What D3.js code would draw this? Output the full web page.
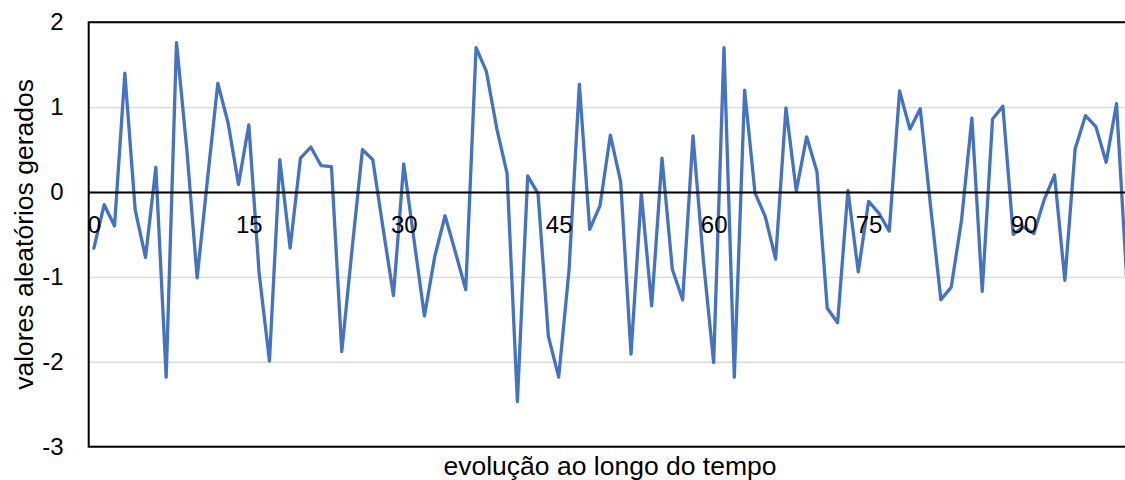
<!DOCTYPE html>
<html>
<head>
<meta charset="utf-8">
<script src="https://cdn.jsdelivr.net/npm/d3@7"></script>
<style>
  html, body { margin: 0; padding: 0; background: #ffffff; }
  svg { display: block; font-family: "Liberation Sans", Arial, sans-serif; }
</style>
</head>
<body>
<svg id="chart" width="1125" height="480"></svg>
<script>
// Sequence index (0..100)
const categories = d3.range(0, 101);

// Generated random values, one per time step
const values = [
  -0.66, -0.15, -0.40, 1.40, -0.21, -0.77, 0.29, -2.18, 1.76, 0.50,
  -1.01, 0.15, 1.28, 0.81, 0.09, 0.79, -0.96, -1.99, 0.38, -0.66,
  0.40, 0.53, 0.31, 0.30, -1.88, -0.67, 0.50, 0.38, -0.43, -1.22,
  0.33, -0.57, -1.46, -0.76, -0.28, -0.71, -1.15, 1.70, 1.42, 0.75,
  0.22, -2.47, 0.19, -0.02, -1.70, -2.18, -0.92, 1.27, -0.44, -0.16,
  0.67, 0.12, -1.91, -0.02, -1.34, 0.40, -0.91, -1.27, 0.66, -0.80,
  -2.01, 1.70, -2.18, 1.20, -0.01, -0.29, -0.79, 0.99, 0.01, 0.65,
  0.24, -1.37, -1.54, 0.02, -0.94, -0.11, -0.25, -0.46, 1.19, 0.74,
  0.98, -0.17, -1.27, -1.12, -0.33, 0.87, -1.17, 0.86, 1.01, -0.50,
  -0.41, -0.49, -0.09, 0.20, -1.04, 0.51, 0.90, 0.77, 0.35, 1.04,
  -1.05
];

// Axis ticks
const xTickValues = [0, 15, 30, 45, 60, 75, 90];
const yTickValues = [-3, -2, -1, 0, 1, 2];

const xTitle = "evolução ao longo do tempo";
const yTitle = "valores aleatórios gerados";

const svg = d3.select("#chart");

const plot = { left: 88.7, right: 1132, top: 22.2, bottom: 446.7 };

const x = d3.scalePoint()
  .domain(categories)
  .range([plot.left, plot.right])
  .padding(0.5);

const y = d3.scaleLinear()
  .domain([-3, 2])
  .range([plot.bottom, plot.top]);

// Horizontal gridlines
const grid = svg.append("g")
  .attr("transform", `translate(${plot.left},0)`)
  .call(d3.axisLeft(y).tickValues(yTickValues).tickSize(-(plot.right - plot.left)).tickFormat(""));
grid.select(".domain").remove();
grid.selectAll("line").attr("stroke", "#d9d9d9").attr("stroke-width", 1.4);

// Plot area frame
svg.append("rect")
  .attr("x", plot.left)
  .attr("y", plot.top)
  .attr("width", plot.right - plot.left)
  .attr("height", plot.bottom - plot.top)
  .attr("fill", "none")
  .attr("stroke", "#000")
  .attr("stroke-width", 2);

// Y axis labels (plain hyphen for negatives)
const yAxis = svg.append("g")
  .attr("transform", `translate(${plot.left},0)`)
  .call(d3.axisLeft(y).tickValues(yTickValues).tickSize(0).tickPadding(25).tickFormat(d => String(d)));
yAxis.select(".domain").remove();
yAxis.selectAll("text")
  .attr("font-size", 24)
  .attr("font-family", "Liberation Sans, Arial, sans-serif")
  .attr("fill", "#000");

// Category axis crossing at zero
const xAxis = svg.append("g")
  .attr("transform", `translate(0,${y(0)})`)
  .call(d3.axisBottom(x).tickValues(xTickValues).tickSize(0).tickPadding(0));
xAxis.select(".domain")
  .attr("stroke", "#000")
  .attr("stroke-width", 2);

// Series line
const line = d3.line()
  .x((d, i) => x(categories[i]))
  .y(d => y(d));

svg.append("path")
  .datum(values)
  .attr("d", line)
  .attr("fill", "none")
  .attr("stroke", "#4472c4")
  .attr("stroke-width", 3.3)
  .attr("stroke-linejoin", "round")
  .attr("stroke-linecap", "round");

// Category labels drawn above the series
xAxis.raise();
xAxis.selectAll("text")
  .attr("y", 41)
  .attr("dy", 0)
  .attr("font-size", 24)
  .attr("font-family", "Liberation Sans, Arial, sans-serif")
  .attr("fill", "#000");

// Axis titles
svg.append("text")
  .attr("x", 610)
  .attr("y", 475)
  .attr("text-anchor", "middle")
  .attr("font-size", 26.5)
  .attr("fill", "#000")
  .text(xTitle);

svg.append("text")
  .attr("transform", `translate(33,${(plot.top + plot.bottom) / 2}) rotate(-90)`)
  .attr("text-anchor", "middle")
  .attr("font-size", 26.5)
  .attr("fill", "#000")
  .text(yTitle);
</script>
</body>
</html>
